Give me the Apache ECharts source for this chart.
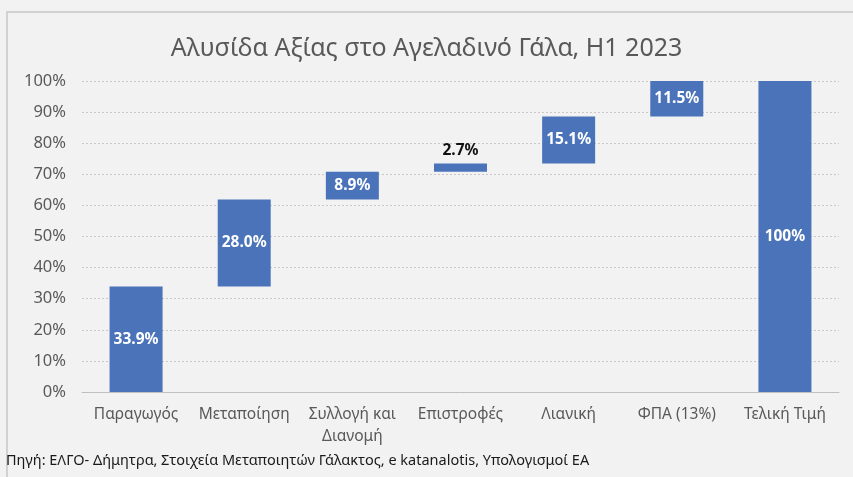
<!DOCTYPE html>
<html>
<head>
<meta charset="utf-8">
<script src="https://cdn.jsdelivr.net/npm/echarts@6/dist/echarts.min.js"></script>
<style>
  html, body { margin: 0; padding: 0; background: #f2f2f2; }
  #chart { width: 853px; height: 477px; }
</style>
</head>
<body>
<div id="chart"></div>
<script>
// Value chain of cow's milk, H1 2023 (shares of the final retail price)
const categories = ['Παραγωγός', 'Μεταποίηση', 'Συλλογή και\nΔιανομή', 'Επιστροφές', 'Λιανική', 'ΦΠΑ (13%)', 'Τελική Τιμή'];
const values = [33.9, 28.0, 8.9, 2.7, 15.1, 11.5, 100];
const isTotal = [false, false, false, false, false, false, true];
const labelText = ['33.9%', '28.0%', '8.9%', '2.7%', '15.1%', '11.5%', '100%'];
const yTicks = [0, 10, 20, 30, 40, 50, 60, 70, 80, 90, 100];

// Waterfall: each step floats on the running total of the previous steps
const bases = [];
let running = 0;
values.forEach((v, i) => {
  if (isTotal[i]) { bases.push(0); }
  else { bases.push(Math.round(running * 10) / 10); running += v; }
});

const font = '"Noto Sans", "DejaVu Sans", sans-serif';
const chart = echarts.init(document.getElementById('chart'), null, { renderer: 'canvas' });

chart.setOption({
  backgroundColor: '#f2f2f2',
  animation: false,
  title: {
    text: 'Αλυσίδα Αξίας στο Αγελαδινό Γάλα, H1 2023',
    left: 'center',
    top: 31,
    textStyle: { fontFamily: font, fontSize: 25, fontWeight: 'normal', color: '#595959' }
  },
  graphic: [
    {
      type: 'rect',
      shape: { x: 7, y: 12, width: 860, height: 480 },
      style: { fill: 'none', stroke: '#d2d2d2', lineWidth: 2 },
      silent: true, z: -1
    },
    {
      type: 'text',
      left: 6, top: 453,
      style: {
        text: 'Πηγή: ΕΛΓΟ- Δήμητρα, Στοιχεία Μεταποιητών Γάλακτος, e katanalotis, Υπολογισμοί ΕΑ',
        font: '14.5px ' + font,
        fill: '#1a1a1a'
      }
    }
  ],
  grid: { left: 82, right: 14, top: 81, bottom: 85, containLabel: false },
  xAxis: {
    type: 'category',
    data: categories,
    axisLine: { lineStyle: { color: '#bfbfbf', width: 1 } },
    axisTick: { show: false },
    axisLabel: {
      interval: 0,
      margin: 12,
      fontFamily: font, fontSize: 15.5, color: '#595959', lineHeight: 22
    }
  },
  yAxis: {
    type: 'value',
    min: 0, max: 100, interval: 10,
    axisLine: { show: false },
    axisTick: { show: false },
    splitLine: { lineStyle: { color: '#c8c8c8', type: [2, 2], width: 1 } },
    axisLabel: {
      margin: 16,
      fontFamily: font, fontSize: 16.5, color: '#595959',
      formatter: v => yTicks.includes(v) ? v + '%' : ''
    }
  },
  series: [
    {
      name: 'base',
      type: 'bar',
      stack: 'wf',
      data: bases,
      itemStyle: { color: 'transparent' },
      emphasis: { disabled: true },
      barWidth: '49%'
    },
    {
      name: 'share',
      type: 'bar',
      stack: 'wf',
      barWidth: '49%',
      data: values.map((v, i) => ({
        value: v,
        label: labelText[i] === '2.7%'
          ? { show: true, position: 'top', distance: 5, color: '#111111', formatter: labelText[i] }
          : { show: true, position: 'inside', color: '#ffffff', formatter: labelText[i] }
      })),
      itemStyle: { color: '#4a73ba' },
      label: { fontFamily: font, fontSize: 15.5, fontWeight: 'bold' }
    }
  ]
});
</script>
</body>
</html>
